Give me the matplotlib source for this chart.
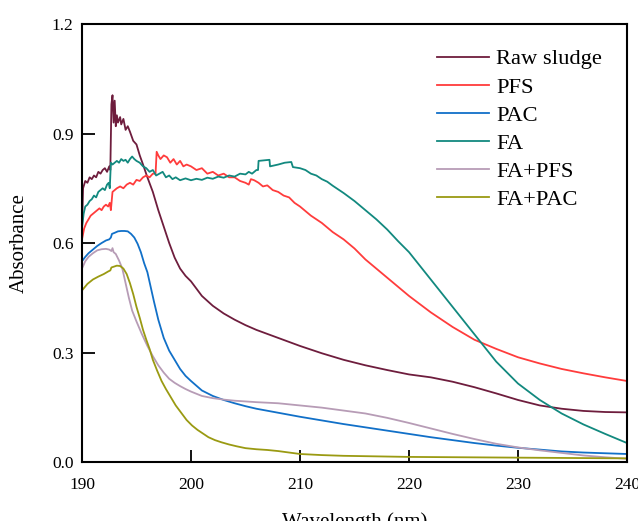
import matplotlib
matplotlib.use("Agg")
import matplotlib.pyplot as plt

plt.rcParams["font.family"] = ["Liberation Serif", "DejaVu Serif"]

# ---------------------------------------------------------------
# Data
# ---------------------------------------------------------------
raw_x = [190.0, 190.1, 190.3, 190.5, 190.7, 190.9, 191.1, 191.3, 191.5, 191.7, 191.9,
         192.1, 192.3, 192.5, 192.6, 192.7, 192.8, 192.9, 193.0, 193.1, 193.2, 193.3,
         193.5, 193.6, 193.8, 194.0, 194.2, 194.4, 194.7, 195.0, 195.3, 195.6, 196.0,
         196.5, 197.0, 197.5, 198.0, 198.5, 199.0, 199.5, 200.0, 201.0, 202.0, 203.0,
         204.0, 205.0, 206.0, 208.0, 210.0, 212.0, 214.0, 216.0, 218.0, 220.0, 222.0,
         224.0, 226.0, 228.0, 230.0, 232.0, 234.0, 236.0, 238.0, 240.0]
raw_y = [0.64, 0.75, 0.77, 0.765, 0.78, 0.775, 0.785, 0.78, 0.795, 0.79, 0.80,
         0.805, 0.795, 0.81, 0.80, 0.98, 1.005, 0.93, 0.99, 0.92, 0.95, 0.93,
         0.945, 0.925, 0.94, 0.91, 0.92, 0.905, 0.88, 0.87, 0.84, 0.815, 0.78,
         0.74, 0.69, 0.645, 0.60, 0.56, 0.53, 0.51, 0.495, 0.455, 0.428, 0.407,
         0.39, 0.375, 0.362, 0.34, 0.318, 0.298, 0.28, 0.265, 0.252, 0.24, 0.232,
         0.22, 0.205, 0.188, 0.17, 0.155, 0.146, 0.14, 0.137, 0.136]

pfs_x = [190.0, 190.2, 190.4, 190.6, 190.8, 191.0, 191.2, 191.4, 191.6, 191.8, 192.0,
         192.2, 192.4, 192.55, 192.65, 192.8, 193.0, 193.2, 193.5, 193.8, 194.1, 194.4,
         194.7, 195.0, 195.3, 195.6, 195.9, 196.2, 196.5, 196.75, 196.85, 197.0, 197.2,
         197.5, 197.8, 198.1, 198.4, 198.7, 199.0, 199.3, 199.6, 200.0, 200.5, 201.0,
         201.5, 202.0, 202.5, 203.0, 203.5, 204.0, 204.5, 205.0, 205.3, 205.5, 205.8,
         206.2, 206.6, 207.0, 207.5, 208.0, 208.5, 209.0, 209.5, 210.0, 211.0, 212.0,
         213.0, 214.0, 215.0, 216.0, 217.0, 218.0, 219.0, 220.0, 222.0, 224.0, 226.0,
         228.0, 230.0, 232.0, 234.0, 236.0, 238.0, 240.0]
pfs_y = [0.61, 0.64, 0.655, 0.665, 0.675, 0.68, 0.685, 0.69, 0.695, 0.69, 0.70,
         0.705, 0.70, 0.71, 0.69, 0.74, 0.745, 0.75, 0.755, 0.75, 0.76, 0.765,
         0.76, 0.773, 0.77, 0.78, 0.785, 0.78, 0.79, 0.79, 0.85, 0.84, 0.83,
         0.84, 0.835, 0.82, 0.83, 0.815, 0.825, 0.81, 0.815, 0.81, 0.80, 0.805,
         0.79, 0.795, 0.785, 0.79, 0.78, 0.78, 0.77, 0.765, 0.76, 0.775, 0.772,
         0.765, 0.755, 0.758, 0.745, 0.74, 0.73, 0.725, 0.71, 0.70, 0.675, 0.655,
         0.63, 0.61, 0.585, 0.555, 0.53, 0.505, 0.48, 0.455, 0.41, 0.37, 0.335,
         0.31, 0.287, 0.27, 0.255, 0.243, 0.232, 0.222]

pac_x = [190.0, 190.3, 190.6, 191.0, 191.4, 191.8, 192.2, 192.5, 192.65, 192.75, 193.0,
         193.3, 193.6, 193.9, 194.2, 194.5, 194.8, 195.1, 195.4, 195.7, 196.0, 196.3,
         196.6, 197.0, 197.5, 198.0, 198.5, 199.0, 199.5, 200.0, 201.0, 202.0, 203.0,
         204.0, 205.0, 206.0, 208.0, 210.0, 212.0, 214.0, 216.0, 218.0, 220.0, 222.0,
         224.0, 226.0, 228.0, 230.0, 232.0, 234.0, 236.0, 238.0, 240.0]
pac_y = [0.55, 0.562, 0.572, 0.582, 0.592, 0.60, 0.607, 0.61, 0.615, 0.625, 0.628,
         0.632, 0.633, 0.633, 0.632, 0.625, 0.615, 0.598, 0.575, 0.545, 0.52, 0.48,
         0.44, 0.39, 0.34, 0.305, 0.28, 0.255, 0.236, 0.222, 0.196, 0.181, 0.17,
         0.161, 0.153, 0.146, 0.135, 0.124, 0.114, 0.104, 0.095, 0.086, 0.077, 0.068,
         0.06, 0.052, 0.045, 0.039, 0.034, 0.029, 0.026, 0.024, 0.022]

fa_x = [190.0, 190.15, 190.3, 190.5, 190.7, 190.9, 191.1, 191.3, 191.5, 191.7, 191.9,
        192.1, 192.3, 192.45, 192.55, 192.65, 192.8, 193.0, 193.2, 193.4, 193.6, 193.8,
        194.0, 194.2, 194.4, 194.6, 194.8, 195.0, 195.3, 195.6, 195.9, 196.2, 196.5,
        196.8, 197.1, 197.4, 197.7, 198.0, 198.3, 198.6, 199.0, 199.5, 200.0, 200.5,
        201.0, 201.5, 202.0, 202.5, 203.0, 203.5, 204.0, 204.5, 205.0, 205.3, 205.6,
        206.0, 206.15, 206.2, 207.2, 207.25, 208.0, 208.6, 209.2, 209.35, 210.0, 210.5,
        211.0, 211.5, 212.0, 212.5, 213.0, 214.0, 215.0, 216.0, 217.0, 218.0, 219.0,
        220.0, 222.0, 224.0, 226.0, 228.0, 230.0, 232.0, 234.0, 236.0, 238.0, 240.0]
fa_y = [0.64, 0.68, 0.70, 0.705, 0.715, 0.72, 0.73, 0.725, 0.74, 0.745, 0.75,
        0.745, 0.76, 0.765, 0.75, 0.82, 0.815, 0.82, 0.825, 0.82, 0.83, 0.825,
        0.828, 0.82, 0.83, 0.837, 0.83, 0.825, 0.82, 0.81, 0.805, 0.795, 0.80,
        0.785, 0.79, 0.795, 0.78, 0.785, 0.775, 0.78, 0.772, 0.777, 0.772, 0.776,
        0.773, 0.779, 0.776, 0.782, 0.779, 0.785, 0.782, 0.79, 0.788, 0.795, 0.79,
        0.80, 0.80, 0.825, 0.828, 0.81, 0.815, 0.82, 0.822, 0.808, 0.805, 0.80,
        0.79, 0.785, 0.775, 0.768, 0.757, 0.737, 0.715, 0.69, 0.665, 0.637, 0.605,
        0.575, 0.50, 0.425, 0.35, 0.275, 0.215, 0.17, 0.133, 0.103, 0.077, 0.052]

fapfs_x = [190.0, 190.3, 190.6, 191.0, 191.4, 191.8, 192.2, 192.5, 192.7, 192.8, 192.9,
           193.1, 193.4, 193.7, 194.0, 194.3, 194.6, 195.0, 195.5, 196.0, 196.5, 197.0,
           197.5, 198.0, 198.5, 199.0, 199.5, 200.0, 201.0, 202.0, 203.0, 204.0, 205.0,
           206.0, 208.0, 210.0, 212.0, 214.0, 216.0, 218.0, 220.0, 222.0, 224.0, 226.0,
           228.0, 230.0, 232.0, 234.0, 236.0, 238.0, 240.0]
fapfs_y = [0.53, 0.55, 0.562, 0.572, 0.58, 0.583, 0.584, 0.582, 0.578, 0.586, 0.575,
           0.57, 0.552, 0.53, 0.49, 0.45, 0.415, 0.385, 0.35, 0.318, 0.29, 0.265,
           0.245, 0.228, 0.217, 0.208, 0.20, 0.193, 0.181, 0.175, 0.171, 0.168, 0.166,
           0.164, 0.161, 0.155, 0.149, 0.141, 0.133, 0.121, 0.107, 0.092, 0.077, 0.063,
           0.05, 0.04, 0.032, 0.025, 0.018, 0.013, 0.009]

fapac_x = [190.0, 190.5, 191.0, 191.5, 192.0, 192.4, 192.6, 192.7, 192.9, 193.2, 193.5,
           193.8, 194.1, 194.4, 194.7, 195.0, 195.3, 195.6, 195.9, 196.2, 196.5, 196.9,
           197.3, 197.7, 198.1, 198.6, 199.1, 199.6, 200.1, 200.6, 201.1, 201.6, 202.2,
           202.8, 203.5, 204.2, 205.0, 206.0, 207.0, 208.0, 209.0, 210.0, 212.0, 214.0,
           216.0, 218.0, 220.0, 225.0, 230.0, 235.0, 240.0]
fapac_y = [0.47, 0.488, 0.50, 0.508, 0.515, 0.522, 0.525, 0.533, 0.535, 0.538, 0.537,
           0.53, 0.515, 0.49, 0.46, 0.425, 0.395, 0.362, 0.335, 0.31, 0.28, 0.25,
           0.222, 0.20, 0.18, 0.155, 0.135, 0.115, 0.10, 0.088, 0.078, 0.068, 0.06,
           0.054, 0.048, 0.043, 0.038, 0.035, 0.033, 0.03, 0.026, 0.022, 0.019, 0.017,
           0.016, 0.015, 0.014, 0.013, 0.012, 0.011, 0.01]

LABELS = ["Raw sludge", "PFS", "PAC", "FA", "FA+PFS", "FA+PAC"]
COLORS = ["#6E1D3D", "#FF3C3C", "#1170C8", "#12897F", "#B79CB6", "#9A9A12"]

# ---------------------------------------------------------------
# Plot
# ---------------------------------------------------------------
fig = plt.figure(figsize=(6.38, 5.21), dpi=100)
ax = fig.add_axes([0.1285, 0.1132, 0.8543, 0.8407])

series = [(raw_x, raw_y), (pfs_x, pfs_y), (pac_x, pac_y),
          (fa_x, fa_y), (fapfs_x, fapfs_y), (fapac_x, fapac_y)]
for (xs, ys), lab, col in zip(series, LABELS, COLORS):
    ax.plot(xs, ys, color=col, lw=1.3, label=lab)

ax.set_xlim(190, 240)
ax.set_ylim(0, 1.2)
ax.set_xticks([190, 200, 210, 220, 230, 240])
ax.set_yticks([0.0, 0.3, 0.6, 0.9, 1.2])
ax.set_yticklabels(["0.0", "0.3", "0.6", "0.9", "1.2"])
ax.tick_params(direction="in", length=9, width=1.3, labelsize=12.5, pad=6)
ax.tick_params(axis="x", pad=11)
for sp in ax.spines.values():
    sp.set_linewidth(1.5)

ax.set_xlabel("Wavelength (nm)", fontsize=15)
ax.set_ylabel("Absorbance", fontsize=15)
ax.xaxis.set_label_coords(0.5, -0.114)
ax.yaxis.set_label_coords(-0.097, 0.5)

ax.legend(loc="upper left", bbox_to_anchor=(0.615, 0.99), frameon=False,
          fontsize=16.2, handlelength=2.3, handletextpad=0.3, labelspacing=0.33)

fig.savefig("out.png", dpi=100)
